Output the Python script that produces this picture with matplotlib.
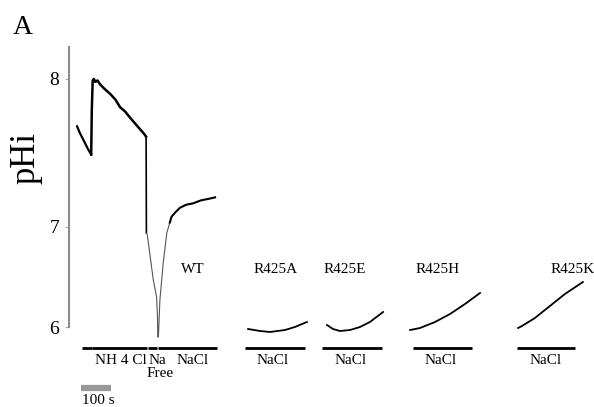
import numpy as np
import matplotlib
matplotlib.use("Agg")
import matplotlib.pyplot as plt

plt.rcParams['font.family'] = ['Liberation Serif', 'DejaVu Serif']

# WT trace (time s, pHi)
wt_base_t = [27, 35, 45, 55, 65, 74]
wt_base_ph = [7.68, 7.64, 7.60, 7.56, 7.52, 7.49]
wt_nh4_t = [74, 76, 79, 83, 88, 95, 105, 120, 137, 155, 170, 187, 203, 220, 237, 250, 257]
wt_nh4_ph = [7.49, 7.79, 7.99, 8.00, 7.98, 7.99, 7.96, 7.93, 7.90, 7.86, 7.81, 7.78, 7.74, 7.70, 7.66, 7.63, 7.61]
wt_drop_t = [257, 258]
wt_drop_ph = [7.61, 6.94]
wt_free_t = [258, 261, 281, 292, 295, 296, 298, 303, 314, 326, 336]
wt_free_ph = [6.94, 6.92, 6.47, 6.30, 6.10, 5.90, 5.90, 6.27, 6.64, 6.94, 7.03]
wt_rec_t = [336, 342, 355, 370, 390, 414, 440, 465, 487]
wt_rec_ph = [7.03, 7.07, 7.10, 7.13, 7.15, 7.16, 7.18, 7.19, 7.20]

# mutant recoveries in NaCl
mut_names = ["R425A", "R425E", "R425H", "R425K"]
mut_t = [[597, 637, 670, 720, 753, 793],
         [860, 880, 903, 937, 970, 1003, 1047],
         [1137, 1170, 1220, 1270, 1320, 1370],
         [1497, 1510, 1553, 1603, 1653, 1713]]
mut_ph = [[5.98, 5.96, 5.95, 5.97, 6.00, 6.05],
          [6.02, 5.98, 5.96, 5.97, 6.00, 6.05, 6.15],
          [5.97, 5.99, 6.05, 6.13, 6.23, 6.34],
          [5.99, 6.01, 6.09, 6.21, 6.33, 6.45]]
mut_label_t = [687, 920, 1230, 1678]
mut_bar = [(587, 787), (843, 1043), (1147, 1343), (1493, 1687)]
mut_nacl_t = [680, 937, 1237, 1587]

# WT solution bars
wt_bars = [(43, 76), (78, 260), (263, 293), (297, 493)]


def fwd(y):
    y = np.asarray(y, float)
    return np.where(y >= 7, (y - 7) * 1.48, y - 7)


def inv(v):
    v = np.asarray(v, float)
    return np.where(v >= 0, v / 1.48 + 7, v + 7)


fig = plt.figure(figsize=(5.94, 4.07), dpi=100)
ax = fig.add_axes([69 / 594, 80 / 407, 525 / 594, 280 / 407])
ax.set_yscale('function', functions=(fwd, inv))
ax.set_xlim(0, 1750)
ax.set_ylim(6, 8.216)
for s in ['top', 'right', 'bottom']:
    ax.spines[s].set_visible(False)
ax.spines['left'].set_color('#8c8c8c')
ax.spines['left'].set_linewidth(1.5)
ax.set_xticks([])
ax.set_yticks([6, 7, 8])
ax.set_yticklabels(['6', '7', '8'])
ax.tick_params(axis='y', length=3, width=0.8, color='#b0b0b0', pad=4, labelsize=14)
ax.minorticks_off()

kw = dict(clip_on=False, solid_joinstyle='round')
ax.plot(wt_base_t, wt_base_ph, color='k', lw=1.6, **kw)
ax.plot(wt_nh4_t, wt_nh4_ph, color='k', lw=1.8, **kw)
ax.plot(wt_drop_t, wt_drop_ph, color='k', lw=1.2, **kw)
ax.plot(wt_free_t, wt_free_ph, color='#555555', lw=0.8, **kw)
ax.plot(wt_rec_t, wt_rec_ph, color='k', lw=1.5, **kw)
for t, p in zip(mut_t, mut_ph):
    ax.plot(t, p, color='k', lw=1.3, **kw)

# solution bars
for a, b in wt_bars + mut_bar:
    ax.plot([a, b], [5.79, 5.79], color='k', lw=2.0, solid_capstyle='butt', clip_on=False)

txt = dict(fontsize=11, ha='center', va='center', clip_on=False)
ax.text(173, 5.67, 'NH 4 Cl', **txt)
ax.text(296, 5.67, 'Na', **txt)
ax.text(302, 5.54, 'Free', **txt)
ax.text(413, 5.67, 'NaCl', **txt)
ax.text(413, 6.57, 'WT', **txt)
for name, lt, nt in zip(mut_names, mut_label_t, mut_nacl_t):
    ax.text(lt, 6.57, name, **txt)
    ax.text(nt, 5.67, 'NaCl', **txt)

# 100 s scale bar
ax.plot([40, 140], [5.39, 5.39], color='#999999', lw=4.5, solid_capstyle='butt', clip_on=False)
ax.text(43, 5.27, '100 s', fontsize=11, ha='left', va='center', clip_on=False)

fig.text(13 / 594, 1 - 28 / 407, 'A', fontsize=20, ha='left', va='center')
fig.text(26 / 594, 1 - 158 / 407, 'pHi', fontsize=25, rotation=90, ha='center', va='center')

fig.savefig('out.png', dpi=100)
